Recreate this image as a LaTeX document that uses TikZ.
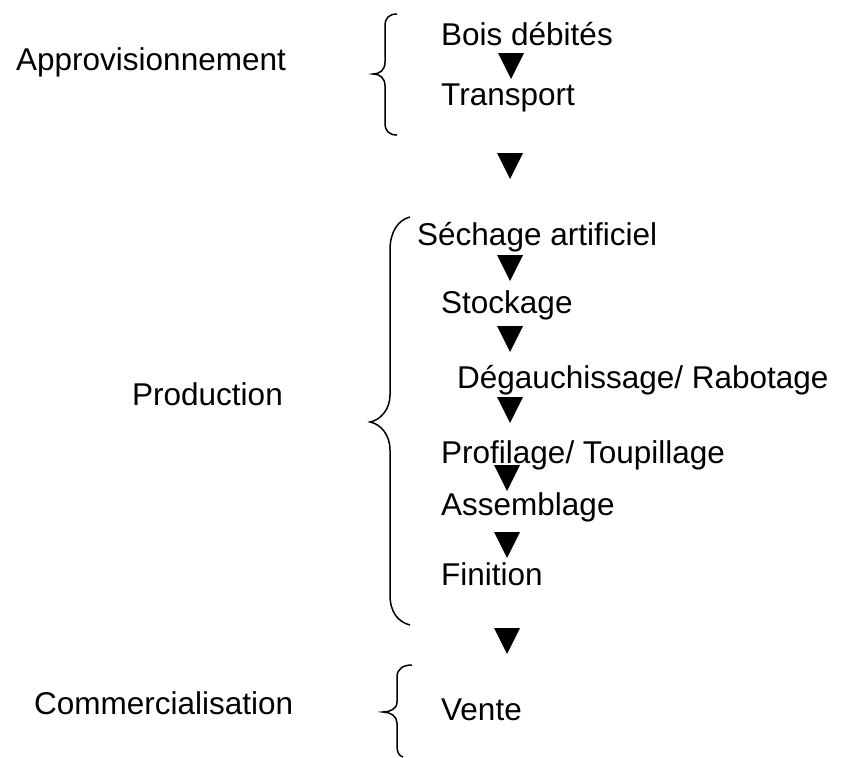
\documentclass[tikz,border=0pt]{standalone}
\usepackage{fontspec}
\setmainfont{Liberation Sans}

\tikzset{
	stage/.style={anchor=base west, inner sep=0pt, font=\fontsize{31.5}{38}\selectfont},
	curly/.style={line width=1.5pt},
	pointer/.pic={\fill (-13,0) -- (13,0) -- (0,26) -- cycle;}
}

\begin{document}
\begin{tikzpicture}[x=1pt, y=-1pt]
	\useasboundingbox (0,0) rectangle (844,758);

	% phases
	\node [stage] (approv) at (16,70) {Approvisionnement};
	\node [stage] (production) at (132,405) {Production};
	\node [stage] (commerce) at (34,714) {Commercialisation};

	% steps
	\node [stage] (bois) at (441,45) {Bois débités};
	\node [stage] (transport) at (441,105) {Transport};
	\node [stage] (sechage) at (417,245) {Séchage artificiel};
	\node [stage] (stockage) at (441,313) {Stockage};
	\node [stage] (degauch) at (457,388) {Dégauchissage/ Rabotage};
	\node [stage] (profil) at (441,463) {Profilage/ Toupillage};
	\node [stage] (assembl) at (441,515) {Assemblage};
	\node [stage] (finition) at (441,585) {Finition};
	\node [stage] (vente) at (441,720) {Vente};

	% arrows
	\pic at (511,53) {pointer};
	\pic at (510,153) {pointer};
	\pic at (510,255) {pointer};
	\pic at (510,326) {pointer};
	\pic at (510,397) {pointer};
	\pic at (507,465) {pointer};
	\pic at (507,532) {pointer};
	\pic at (507,628) {pointer};

	% braces
	\draw [curly] (397,14) .. controls (389,14) and (385,18) .. (385,26) -- (385,62)
		.. controls (385,70) and (380,74) .. (373,74)
		.. controls (380,74) and (385,78) .. (385,86) -- (385,123)
		.. controls (385,131) and (389,135) .. (397,135);
	\draw [curly] (410,217) .. controls (398,220) and (390,232) .. (390,250) -- (390,395)
		.. controls (390,410) and (380,420) .. (370,422)
		.. controls (380,424) and (390,434) .. (390,450) -- (390,595)
		.. controls (390,612) and (398,622) .. (410,625);
	\draw [curly] (412,665) .. controls (403,665) and (397,669) .. (397,677) -- (397,702)
		.. controls (397,709) and (390,712) .. (383,712)
		.. controls (390,712) and (397,716) .. (397,723) -- (397,746)
		.. controls (397,752) and (399,756) .. (403,757);
\end{tikzpicture}
\end{document}
